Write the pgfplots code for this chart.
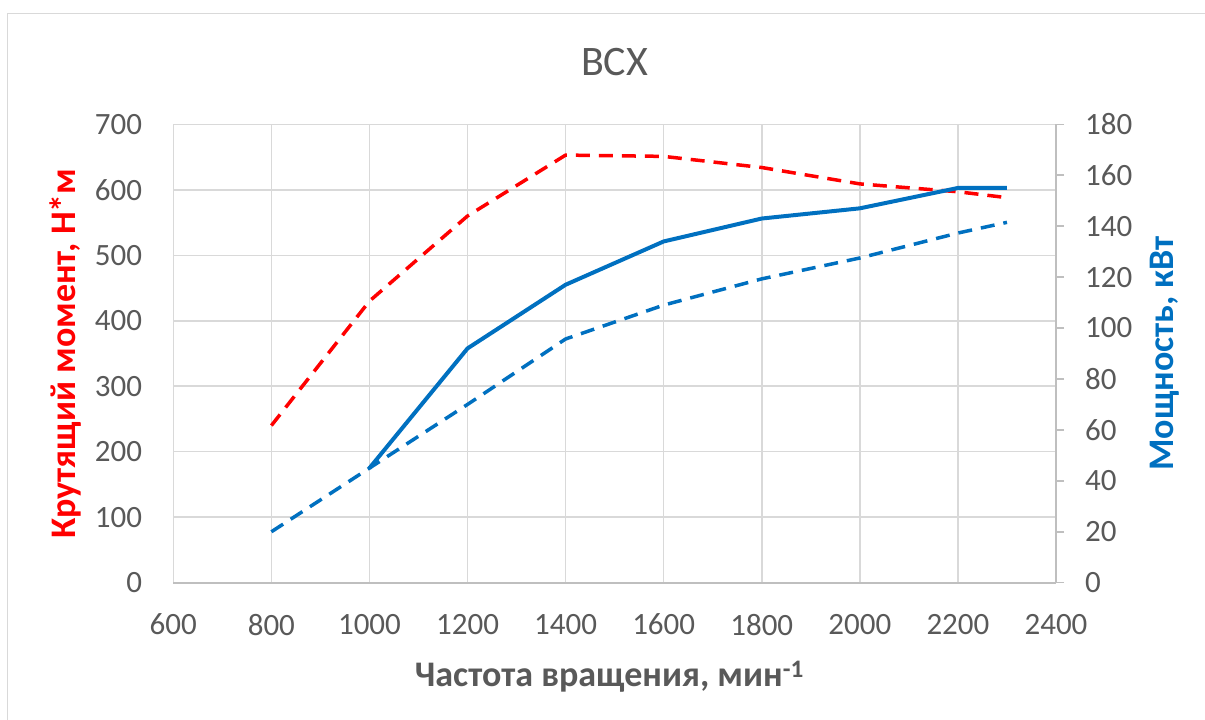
\documentclass[border=0pt]{standalone}
\usepackage{fontspec}
\setmainfont{Carlito}
\usepackage{pgfplots}
\pgfplotsset{compat=1.18}
\definecolor{txtgray}{HTML}{595959}
\definecolor{gridgray}{HTML}{D9D9D9}
\definecolor{axgray}{HTML}{BFBFBF}
\definecolor{myblue}{HTML}{0070C0}
\definecolor{myred}{HTML}{FF0000}
\begin{document}
\begin{tikzpicture}[x=1pt,y=1pt]
\path[use as bounding box] (0,0) rectangle (1205,720);
\draw[gridgray, line width=1.5pt] (7.5,-5) -- (7.5,706.5) -- (1215,706.5);
\begin{axis}[
  at={(173.3pt,137.3pt)}, anchor=south west,
  scale only axis, width=882.7pt, height=458.4pt,
  xmin=600, xmax=2400, ymin=0, ymax=700,
  xtick={600,800,...,2400}, ytick={0,100,...,700},
  grid=major, grid style={gridgray, line width=1.5pt},
  axis line style={draw=none},
  major tick length=0pt,
  tick label style={font=\fontsize{31}{37}\selectfont, text=txtgray, inner sep=0pt},
  /pgf/number format/assume math mode=true,
  /pgf/number format/1000 sep={},
  yticklabel style={anchor=east, xshift=-31pt},
  xticklabel style={anchor=north, yshift=-31pt},
  title={ВСХ},
  every axis title/.style={at={(axis description cs:0.5,1.136)}, anchor=center, font=\fontsize{42}{50}\selectfont, text=txtgray},
  xlabel={Частота вращения, мин\textsuperscript{-1}},
  every axis x label/.style={at={(axis description cs:0.494,-0.206)}, anchor=center, font=\bfseries\fontsize{36}{43}\selectfont, text=txtgray},
  ylabel={Крутящий момент, Н*м},
  every axis y label/.style={at={(axis description cs:-0.1216,0.5)}, anchor=center, rotate=90, font=\bfseries\fontsize{36}{43}\selectfont, text=myred},
]
\addplot[myred, line width=3.5pt, dash pattern=on 14pt off 9pt, line join=round] coordinates {
  (800,240) (1000,430) (1200,560) (1400,653) (1600,651) (1800,634) (2000,609) (2200,597) (2300,588)
};
\end{axis}
\begin{axis}[
  at={(173.3pt,137.3pt)}, anchor=south west,
  scale only axis, width=882.7pt, height=458.4pt,
  xmin=600, xmax=2400, ymin=0, ymax=180,
  axis x line*=bottom, axis y line*=right,
  xtick=\empty, ytick={0,20,...,180},
  axis line style={axgray, line width=2pt, -},
  tick style={axgray, line width=1.5pt},
  tick align=outside, major tick length=8pt,
  tick label style={font=\fontsize{31}{37}\selectfont, text=txtgray, inner sep=0pt},
  /pgf/number format/assume math mode=true,
  yticklabel style={anchor=west, xshift=21pt},
  ylabel={Мощность, кВт},
  every axis y label/.style={at={(axis description cs:1.1235,0.5)}, anchor=center, rotate=90, font=\bfseries\fontsize{36}{43}\selectfont, text=myblue},
]
\addplot[myblue, line width=4pt, line join=round] coordinates {
  (1000,45) (1200,92) (1400,117) (1600,134) (1800,143) (2000,147) (2200,155) (2300,155)
};
\addplot[myblue, line width=3.5pt, dash pattern=on 14pt off 9pt, line join=round] coordinates {
  (800,20) (1000,45) (1200,70) (1400,95.7) (1600,109) (1800,119.3) (2000,127.5) (2200,137.3) (2300,141.5)
};
\end{axis}
\end{tikzpicture}
\end{document}
